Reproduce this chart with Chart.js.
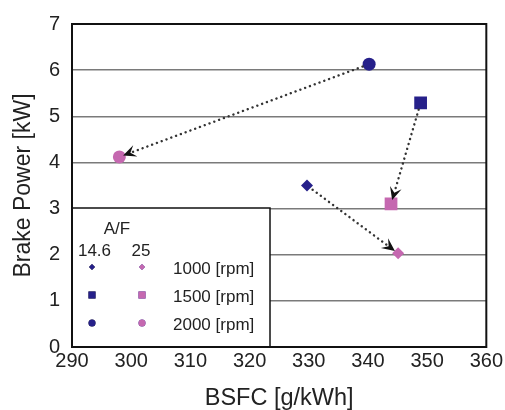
<!DOCTYPE html>
<html>
<head>
<meta charset="utf-8">
<script src="https://cdn.jsdelivr.net/npm/chart.js@4"></script>
<style>
  body { margin: 0; background: #fff; }
  #wrap { width: 505px; height: 410px; }
</style>
</head>
<body>
<div id="wrap"><canvas id="bsfc"></canvas></div>
<script>
var speeds = ["1000 [rpm]", "1500 [rpm]", "2000 [rpm]"];
var bsfcLean = [329.7, 348.9, 340.2];   // A/F 14.6
var powerLean = [3.5, 5.29, 6.13];
var bsfcRich = [345.1, 343.9, 298.0];   // A/F 25
var powerRich = [2.03, 3.1, 4.12];
var markerStyles = ["rectRot", "rect", "circle"];
var markerSizes = [6, 9, 6.5];
var xTicks = [290, 300, 310, 320, 330, 340, 350, 360];
var yTicks = [0, 1, 2, 3, 4, 5, 6, 7];

var navy = "#26208a";
var pink = "#c568b0";
var fontFam = "'Liberation Sans', Arial, sans-serif";

function pts(xs, ys) {
  return xs.map(function (x, i) { return { x: x, y: ys[i] }; });
}

// frame, legend box and arrows
var extras = {
  id: "extras",
  beforeDatasetsDraw: function (chart) {
    var ctx = chart.ctx, a = chart.chartArea;
    ctx.save();
    // legend box
    var bx = a.left, by = 208, bw = 270 - a.left, bh = a.bottom - by;
    ctx.fillStyle = "#fff";
    ctx.fillRect(bx, by, bw, bh);
    ctx.strokeStyle = "#111";
    ctx.lineWidth = 1.5;
    ctx.strokeRect(bx, by, bw, bh);
    ctx.fillStyle = "#222";
    ctx.font = "17px " + fontFam;
    ctx.textBaseline = "middle";
    ctx.textAlign = "center";
    ctx.fillText("A/F", 117, 229);
    ctx.fillText("14.6", 94.5, 251);
    ctx.fillText("25", 141, 251);
    ctx.textAlign = "left";
    var rows = [269, 297, 325];
    var small = [3, 5, 3.5];
    speeds.forEach(function (s, i) {
      ctx.fillStyle = "#222";
      ctx.fillText(s, 173, rows[i]);
      Chart.helpers.drawPoint(ctx, { pointStyle: markerStyles[i], radius: small[i], borderWidth: 0 }, 92, rows[i] - 2);
      ctx.fillStyle = navy;
      ctx.fill();
      Chart.helpers.drawPoint(ctx, { pointStyle: markerStyles[i], radius: small[i], borderWidth: 0 }, 142, rows[i] - 2);
      ctx.fillStyle = pink;
      ctx.fill();
    });
    // plot frame
    ctx.strokeStyle = "#111";
    ctx.lineWidth = 2;
    ctx.strokeRect(a.left, a.top, a.right - a.left, a.bottom - a.top);
    ctx.restore();
  },
  afterDatasetsDraw: function (chart) {
    var ctx = chart.ctx;
    var xs = chart.scales.x, ys = chart.scales.y;
    ctx.save();
    bsfcLean.forEach(function (v, i) {
      var x0 = xs.getPixelForValue(v), y0 = ys.getPixelForValue(powerLean[i]);
      var x1 = xs.getPixelForValue(bsfcRich[i]), y1 = ys.getPixelForValue(powerRich[i]);
      var dx = x1 - x0, dy = y1 - y0, len = Math.sqrt(dx * dx + dy * dy);
      var ux = dx / len, uy = dy / len;
      var sx = x0 + ux * 7, sy = y0 + uy * 7;
      var ex = x1 - ux * 4, ey = y1 - uy * 4;
      ctx.strokeStyle = "#333";
      ctx.lineWidth = 2.4;
      ctx.lineCap = "round";
      ctx.setLineDash([0.1, 5]);
      ctx.beginPath();
      ctx.moveTo(sx, sy);
      ctx.lineTo(ex - ux * 8, ey - uy * 8);
      ctx.stroke();
      ctx.setLineDash([]);
      // arrow head
      var hl = 13, hw = 6;
      ctx.fillStyle = "#111";
      ctx.beginPath();
      ctx.moveTo(ex, ey);
      ctx.lineTo(ex - ux * hl - uy * hw, ey - uy * hl + ux * hw);
      ctx.lineTo(ex - ux * hl * 0.6, ey - uy * hl * 0.6);
      ctx.lineTo(ex - ux * hl + uy * hw, ey - uy * hl - ux * hw);
      ctx.closePath();
      ctx.fill();
    });
    ctx.restore();
  }
};

new Chart("bsfc", {
  type: "scatter",
  data: {
    datasets: [{
      label: "A/F 14.6",
      data: pts(bsfcLean, powerLean),
      backgroundColor: navy,
      borderColor: navy,
      borderWidth: 0,
      pointStyle: markerStyles,
      pointRadius: markerSizes
    }, {
      label: "A/F 25",
      data: pts(bsfcRich, powerRich),
      backgroundColor: pink,
      borderColor: pink,
      borderWidth: 0,
      pointStyle: markerStyles,
      pointRadius: markerSizes
    }]
  },
  options: {
    responsive: true,
    maintainAspectRatio: false,
    animation: false,
    layout: { padding: { top: 23, right: 13, left: 0, bottom: 0 } },
    plugins: {
      legend: { display: false },
      tooltip: { enabled: false }
    },
    scales: {
      x: {
        type: "linear",
        min: 290,
        max: 360,
        afterBuildTicks: function (s) { s.ticks = xTicks.map(function (v) { return { value: v }; }); },
        afterFit: function (s) { s.height = 63; },
        grid: { display: false, drawTicks: false },
        border: { display: false },
        ticks: { color: "#222", padding: 2, maxRotation: 0, font: { family: fontFam, size: 20 } },
        title: {
          display: true,
          text: "BSFC [g/kWh]",
          color: "#222",
          padding: { top: 0, bottom: -3 },
          font: { family: fontFam, size: 23.5 }
        }
      },
      y: {
        min: 0,
        max: 7,
        afterBuildTicks: function (s) { s.ticks = yTicks.map(function (v) { return { value: v }; }); },
        afterFit: function (s) { s.width = 72; },
        grid: { color: "#7a7a7a", lineWidth: 1.5, drawTicks: false },
        border: { display: false },
        ticks: { color: "#222", padding: 12, font: { family: fontFam, size: 20 } },
        title: {
          display: true,
          text: "Brake Power [kW]",
          color: "#222",
          padding: { top: 10, bottom: 0 },
          font: { family: fontFam, size: 23 }
        }
      }
    }
  },
  plugins: [extras]
});
</script>
</body>
</html>
